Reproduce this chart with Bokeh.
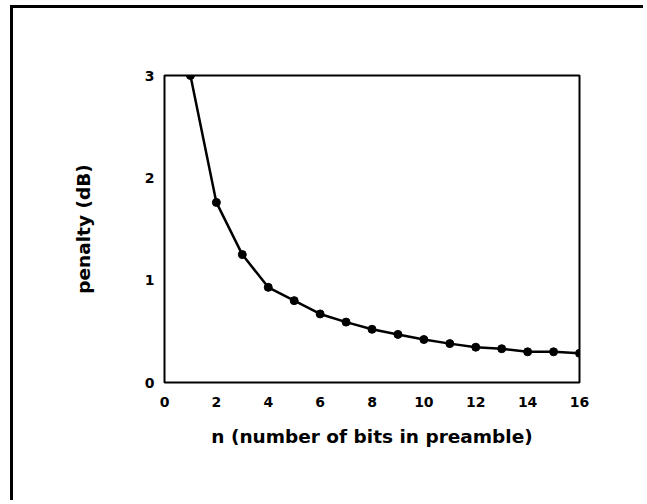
from bokeh.plotting import figure
from bokeh.models import FixedTicker, Range1d
from bokeh.embed import file_html
from bokeh.resources import INLINE

# data
n_bits = [1, 2, 3, 4, 5, 6, 7, 8, 9, 10, 11, 12, 13, 14, 15, 16]
penalty_db = [3.0, 1.76, 1.25, 0.93, 0.80, 0.67, 0.59, 0.52, 0.47, 0.42,
              0.38, 0.345, 0.33, 0.30, 0.30, 0.285]
x_ticks = [0, 2, 4, 6, 8, 10, 12, 14, 16]
y_ticks = [0, 1, 2, 3]

FONT = "DejaVu Sans"

p = figure(width=633, height=495, output_backend="svg", toolbar_location=None,
           x_range=Range1d(0, 16), y_range=Range1d(0, 3),
           min_border_left=151, min_border_right=67,
           min_border_top=67, min_border_bottom=121)
p.styles = {"border-left": "3px solid black", "border-top": "3px solid black",
            "margin-top": "5px", "margin-left": "10px"}

p.background_fill_color = "white"
p.border_fill_color = "white"
p.outline_line_color = "black"
p.outline_line_width = 2
p.outline_line_alpha = 1.0
p.xgrid.visible = False
p.ygrid.visible = False

for ax in (p.xaxis[0], p.yaxis[0]):
    ax.axis_line_color = None
    ax.major_tick_line_color = None
    ax.minor_tick_line_color = None
    ax.major_tick_out = 0
    ax.major_tick_in = 0
    ax.minor_tick_out = 0
    ax.minor_tick_in = 0
    ax.major_label_text_font = FONT
    ax.major_label_text_font_style = "bold"
    ax.major_label_text_font_size = "14px"
    ax.major_label_text_color = "black"
    ax.axis_label_text_font = FONT
    ax.axis_label_text_font_style = "bold"
    ax.axis_label_text_font_size = "18.5px"
    ax.axis_label_text_color = "black"

p.xaxis.ticker = FixedTicker(ticks=x_ticks)
p.yaxis.ticker = FixedTicker(ticks=y_ticks)
p.xaxis.axis_label = "n (number of bits in preamble)"
p.yaxis.axis_label = "penalty (dB)"
p.xaxis.major_label_standoff = 14
p.yaxis.major_label_standoff = 10
p.xaxis.axis_label_standoff = 16
p.yaxis.axis_label_standoff = 48

p.line(n_bits, penalty_db, line_color="black", line_width=2.5)
p.scatter(n_bits, penalty_db, size=8, fill_color="black", line_color="black")

open("out.html", "w").write(file_html(p, INLINE))
